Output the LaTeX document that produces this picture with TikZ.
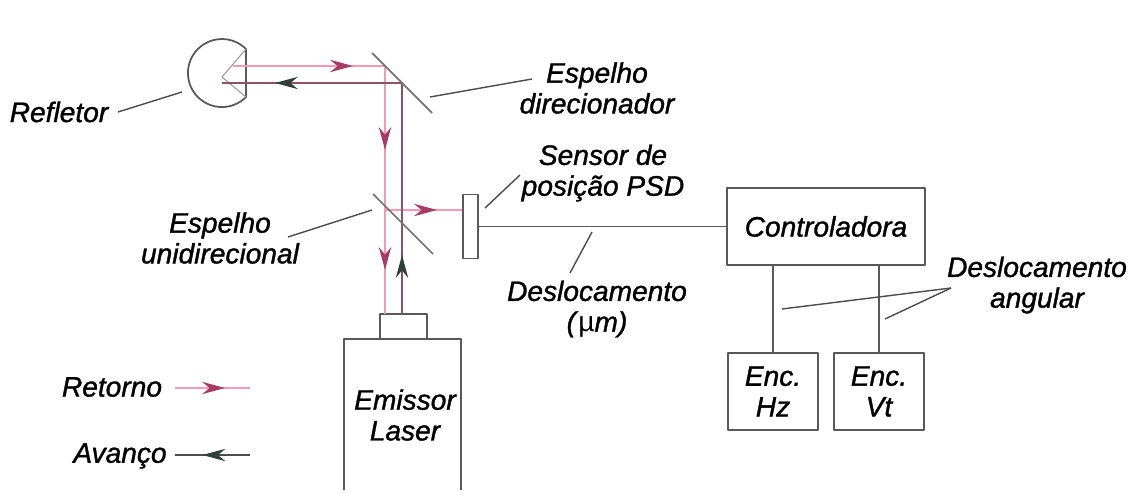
\documentclass[tikz,border=0pt]{standalone}
\usepackage{fontspec}
\setmainfont{Liberation Sans}[ItalicFeatures={FakeBold=1.2}]
\usepackage{tikz}
\usetikzlibrary{arrows.meta, decorations.markings}

\definecolor{retcol}{HTML}{F29AB6}
\definecolor{rettip}{HTML}{A83A68}
\definecolor{avacol}{HTML}{8F5068}
\definecolor{avatip}{HTML}{2F3F3A}
\newcommand{\rettip}{\arrow[rettip]{Stealth[length=13pt, width=7pt]}}
\newcommand{\avatip}{\arrow[avatip]{Stealth[length=13pt, width=7pt]}}

\begin{document}
\begin{tikzpicture}[semithick, line join=round,
		every node/.style={font=\fontsize{16}{17.5}\selectfont\itshape, align=center},
		box/.style={draw=black!65, line width=1.1pt, inner sep=0pt},
		leader/.style={draw=black!70, line width=.8pt},
		mirror/.style={draw=black!55, line width=1pt},
		retorno/.style={draw=retcol, line width=1.5pt, postaction=decorate},
		avanco/.style={draw=avacol, line width=.8pt, postaction=decorate}]
		\useasboundingbox (0, 0) rectangle (22.6, 9.84);
		
		\coordinate (rt) at (4.92, 8.86);
		\coordinate (rb) at (4.92, 7.90);
		\coordinate (ra) at (4.44, 8.30);
		\draw[black!65, line width=1pt] (rt) arc (45:315:.68) -- cycle;
		\draw[black!40] (rt) -- (ra) -- (rb);
		
		\node[box, minimum width=.94cm, minimum height=.5cm] (neck) at (8.07, 3.31) {};
		\coordinate (bl) at (6.88, 0.04);
		\coordinate (tl) at (6.88, 3.06);
		\coordinate (tr) at (9.22, 3.06);
		\coordinate (br) at (9.22, 0.04);
		\draw[black!65, line width=1.1pt] (bl) -- (tl) -- (tr) -- (br);
		\node (laser) at (8.1, 1.54) {Emissor\\Laser};
		
		\node[box, minimum width=.3cm, minimum height=1.28cm] (psd) at (9.41, 5.31) {};
		\node[box, minimum width=3.96cm, minimum height=1.54cm] (ctrl) at (16.52, 5.31) {Controladora};
		\node[box, minimum width=1.8cm, minimum height=1.54cm] (hz) at (15.46, 2.01) {Enc.\\Hz};
		\node[box, minimum width=1.8cm, minimum height=1.54cm] (vt) at (17.58, 2.01) {Enc.\\Vt};
		
		\coordinate (r0) at (4.66, 8.52);
		\coordinate (r1) at (7.70, 8.52);
		\coordinate (r2) at (7.70, 3.56);
		\coordinate (r3) at (7.70, 5.64);
		\coordinate (a0) at (8.04, 3.56);
		\coordinate (a1) at (8.04, 8.18);
		\coordinate (a2) at (4.44, 8.18);
		
		\path[retorno, decoration={markings, mark=at position 2.4cm with {\rettip}, mark=at position 4.72cm with {\rettip}, mark=at position 7.12cm with {\rettip}}]
			(r0) -- (r1) -- (r2);
		\path[retorno, decoration={markings, mark=at position 1.04cm with {\rettip}}]
			(r3) -- (r3 -| psd.west);
		\path[avanco, decoration={markings, mark=at position 1.18cm with {\avatip}, mark=at position 7.16cm with {\avatip}}]
			(a0) -- (a1) -- (a2);
		
		\coordinate (m1a) at (7.44, 8.78);
		\coordinate (m1b) at (8.64, 7.58);
		\coordinate (m2a) at (7.46, 5.96);
		\coordinate (m2b) at (8.66, 4.76);
		\path[mirror] (m1a) -- (m1b);
		\path[mirror] (m2a) -- (m2b);
		
		\path[box] (psd.east) -- (ctrl.west);
		\path[box] (hz.north |- ctrl.south) -- (hz.north);
		\path[box] (vt.north |- ctrl.south) -- (vt.north);
		
		\node (refl) at (1.18, 7.6) {Refletor};
		\node (dir) at (11.94, 8.08) {Espelho\\direcionador};
		\node (sens) at (12.06, 6.38) {Sensor de\\posição PSD};
		\node (uni) at (4.4, 5.08) {Espelho\\unidirecional};
		\node (desl) at (11.94, 3.66) {Deslocamento\\(\textup{µ}m)};
		\node (ang) at (20.74, 4.14) {Deslocamento\\angular};
		
		\coordinate (l1a) at (2.36, 7.60);
		\coordinate (l1b) at (3.64, 8.00);
		\coordinate (l2a) at (10.64, 8.26);
		\coordinate (l2b) at (8.60, 7.90);
		\coordinate (l3a) at (10.40, 6.34);
		\coordinate (l3b) at (9.70, 5.68);
		\coordinate (l4a) at (5.76, 5.10);
		\coordinate (l4b) at (7.44, 5.64);
		\coordinate (l5a) at (11.40, 4.38);
		\coordinate (l5b) at (11.84, 5.20);
		\coordinate (l6) at (19.02, 4.08);
		\coordinate (l6a) at (15.64, 3.66);
		\coordinate (l6b) at (17.70, 3.46);
		\path[leader] (l1a) -- (l1b);
		\path[leader] (l2a) -- (l2b);
		\path[leader] (l3a) -- (l3b);
		\path[leader] (l4a) -- (l4b);
		\path[leader] (l5a) -- (l5b);
		\path[leader] (l6) -- (l6a);
		\path[leader] (l6) -- (l6b);
		
		\node (ret) at (2.24, 2.10) {Retorno};
		\node (ava) at (2.40, 0.72) {Avanço};
		\coordinate (lr0) at (3.50, 2.08);
		\coordinate (lr1) at (5.00, 2.08);
		\coordinate (la0) at (5.00, 0.74);
		\coordinate (la1) at (3.50, 0.74);
		\path[retorno, line width=1.2pt, decoration={markings, mark=at position 1cm with {\rettip}}] (lr0) -- (lr1);
		\path[avanco, draw=black!70, decoration={markings, mark=at position .95cm with {\avatip}}] (la0) -- (la1);
	\end{tikzpicture}
\end{document}
